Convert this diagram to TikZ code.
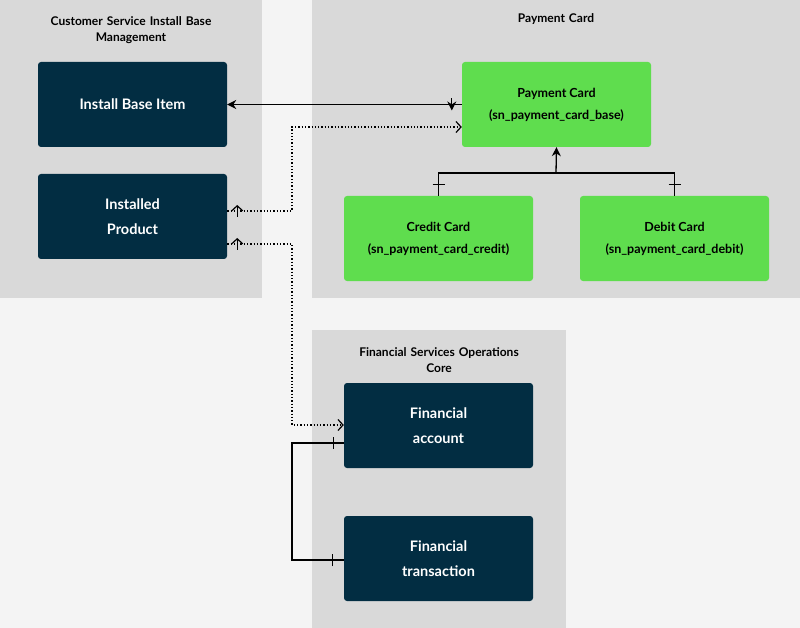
\documentclass[tikz,border=0pt]{standalone}
\usepackage{fontspec}
\setmainfont{Lato}
\usetikzlibrary{arrows.meta,decorations.markings}
\definecolor{bgc}{HTML}{F4F4F4}
\definecolor{groupc}{HTML}{D9D9D9}
\definecolor{navy}{HTML}{022D42}
\definecolor{lime}{HTML}{5FDD4E}
\begin{document}
\begin{tikzpicture}[x=1pt,y=-1pt,
  group/.style={fill=groupc,draw=none},
  title/.style={font=\bfseries\fontsize{12}{16}\selectfont,align=center,text width=230pt},
  dark/.style={fill=navy,text=white,rounded corners=3pt,minimum width=189pt,minimum height=85pt,
    inner sep=0pt,font=\bfseries\fontsize{14.5}{25}\selectfont,align=center},
  light/.style={dark,fill=lime,text=black,font=\bfseries\fontsize{12.5}{22}\selectfont},
  link/.style={line width=1.3pt},
  dots/.style={link,dotted},
  tickstart/.style={decoration={markings,mark=at position 10pt with {\draw[solid,line width=1.2pt] (0,-6pt)--(0,6pt);}},postaction=decorate},
  tickend/.style={decoration={markings,mark=at position -11pt with {\draw[solid,line width=1.2pt] (0,-6pt)--(0,6pt);}},postaction=decorate},
  solidhead/.style={-{Stealth[length=9pt,width=9pt]}},
  openhead/.style={-{Straight Barb[length=5pt,width=11pt,line width=1.2pt]}}]
\fill[bgc] (0,0) rectangle (800,628);
\useasboundingbox (0,0) rectangle (800,628);
% groups
\fill[group] (0,0) rectangle (262,298);
\fill[group] (312,0) rectangle (800,298);
\fill[group] (312,330) rectangle (566,628);
\node[title] (csTitle) at (131,30) {Customer Service Install Base\\Management};
\node[title] (pcTitle) at (556,19) {Payment Card};
\node[title] (fsTitle) at (439,360) {Financial Services Operations\\Core};
% boxes
\node[dark] (ibi) at (132.5,104.5) {Install Base Item};
\node[dark] (ip) at (132.5,216.5) {Installed\\Product};
\node[light] (pc) at (556.5,104.5) {Payment Card\\(sn\_payment\_card\_base)};
\node[light] (cc) at (438.5,238.5) {Credit Card\\(sn\_payment\_card\_credit)};
\node[light] (dc) at (674.5,238.5) {Debit Card\\(sn\_payment\_card\_debit)};
\node[dark] (fa) at (438.5,425.5) {Financial\\account};
\node[dark] (ft) at (438.5,558.5) {Financial\\transaction};
% connectors
\draw[link,solidhead,tickstart] (pc.west) -- (ibi.east);
\draw[dots,openhead,tickstart] (ip.east |- 0,211) -| (292,127) -- (pc.west |- 0,127);
\draw[dots,openhead,tickstart] (ip.east |- 0,244) -| (292,425) -- (fa.west |- 0,425);
\draw[link,tickstart,tickend] (fa.west |- 0,443) -| (292,560) -- (ft.west |- 0,560);
\coordinate (split) at (556,173);
\draw[link,solidhead] (split) -- (pc.south);
\draw[link,tickend] (split) -| (cc.north);
\draw[link,tickend] (split) -| (dc.north);
\end{tikzpicture}
\end{document}
